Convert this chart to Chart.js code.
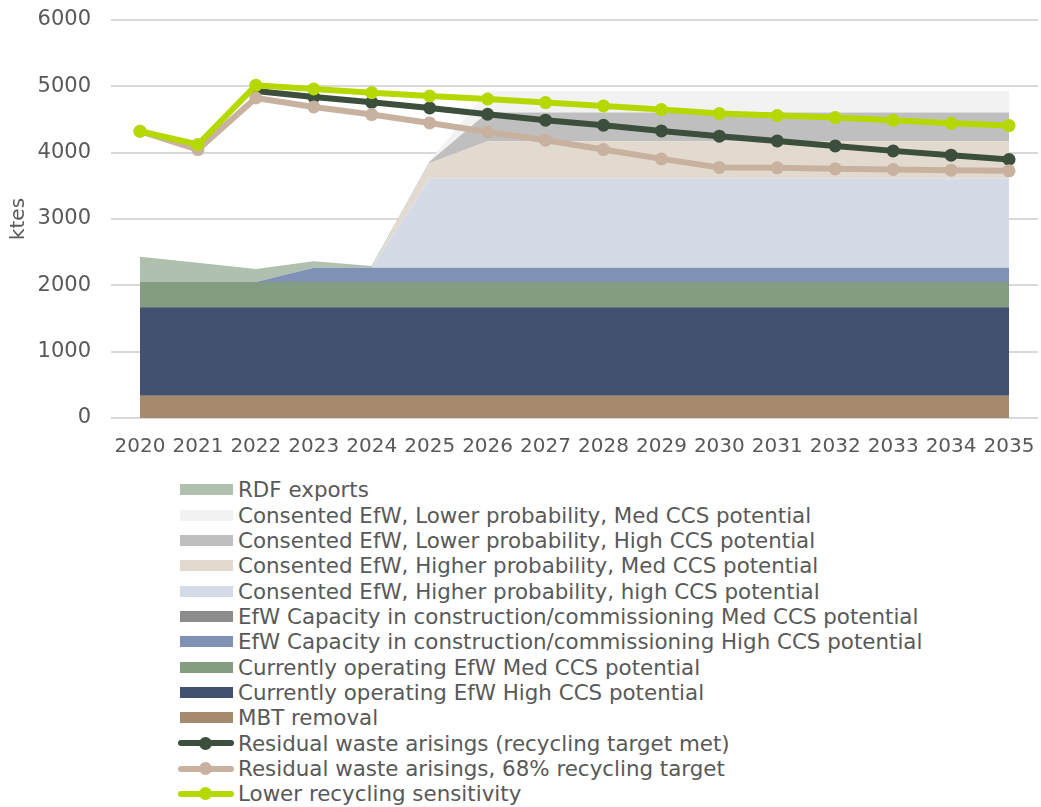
<!DOCTYPE html>
<html><head><meta charset="utf-8">
<script src="https://cdn.jsdelivr.net/npm/chart.js@4"></script>
<style>
html,body{margin:0;padding:0;background:#fff;}
body{width:1041px;height:807px;overflow:hidden;position:relative;font-family:"DejaVu Sans",Verdana,sans-serif;}
#wrap{position:absolute;left:0;top:0;width:1041px;height:470px;}
.row{position:absolute;left:0;height:25.33px;line-height:25.33px;font-size:21.4px;color:#595959;white-space:nowrap;}
.row .txt{position:absolute;left:238px;top:0;}
.sw{position:absolute;left:180px;width:53px;height:11px;top:7px;}
.ln{position:absolute;left:178px;width:56px;height:6px;top:9.7px;border-radius:3px;}
.dot{position:absolute;left:199px;width:13px;height:13px;top:6.2px;border-radius:50%;}
</style>
</head><body>
<div id="wrap"><canvas id="c" width="1041" height="470"></canvas></div>
<div id="legend"></div>
<script>
// ---- data ----
const years = ['2020','2021','2022','2023','2024','2025','2026','2027','2028','2029','2030','2031','2032','2033','2034','2035'];
const yTicks = [0,1000,2000,3000,4000,5000,6000];

const mbtRemoval          = [335,335,335,335,335,335,335,335,335,335,335,335,335,335,335,335];
const currentHighCCS      = [1335,1335,1335,1335,1335,1335,1335,1335,1335,1335,1335,1335,1335,1335,1335,1335];
const currentMedCCS       = [380,380,380,380,380,380,380,380,380,380,380,380,380,380,380,380];
const constructionHighCCS = [0,0,0,215,215,215,215,215,215,215,215,215,215,215,215,215];
const constructionMedCCS  = [0,0,0,0,0,0,0,0,0,0,0,0,0,0,0,0];
const higherProbHighCCS   = [0,0,0,0,0,1345,1345,1345,1345,1345,1345,1345,1345,1345,1345,1345];
const higherProbMedCCS    = [0,0,0,0,0,230,562,562,562,562,562,562,562,562,562,562];
const lowerProbHighCCS    = [0,0,0,0,0,25,432,432,432,432,432,432,432,432,432,432];
const lowerProbMedCCS     = [0,0,0,0,0,15,326,326,326,326,326,326,326,326,326,326];
const rdfExports          = [380,292,196,97,27,0,0,0,0,0,0,0,0,0,0,0];

const residualTargetMet   = [null,null,4930,4839,4759,4674,4579,4490,4413,4328,4248,4177,4102,4027,3962,3897];
const residual68          = [4323,4047,4824,4689,4574,4448,4312,4187,4047,3906,3777,3771,3756,3746,3736,3726];
const lowerRecycling      = [4323,4123,5015,4960,4905,4854,4809,4755,4704,4649,4589,4559,4529,4488,4443,4409];

// ---- styles ----
const FONT = '"DejaVu Sans", Verdana, sans-serif';
const TXT = '#595959';

function area(label, data, color, first){
  return {type:'line', label, data, backgroundColor:color, borderColor:'rgba(0,0,0,0)', borderWidth:0,
    pointRadius:0, pointHoverRadius:0, fill: first ? 'origin' : '-1', stack:'areas', order:10, tension:0, _kind:'area'};
}
function line(label, data, color, order){
  return {type:'line', label, data, borderColor:color, backgroundColor:color, borderWidth:6,
    pointRadius:6.5, pointHoverRadius:6.5, pointBorderWidth:0, pointBackgroundColor:color,
    fill:false, stack:'line'+order, order, tension:0, clip:10, _kind:'line'};
}

const datasets = [
  area('MBT removal', mbtRemoval, '#a68a6d', true),
  area('Currently operating EfW High CCS potential', currentHighCCS, '#41516f'),
  area('Currently operating EfW Med CCS potential', currentMedCCS, '#849c82'),
  area('EfW Capacity in construction/commissioning High CCS potential', constructionHighCCS, '#7f91b4'),
  area('EfW Capacity in construction/commissioning Med CCS potential', constructionMedCCS, '#8c8c8c'),
  area('Consented EfW, Higher probability, high CCS potential', higherProbHighCCS, '#d5dbe6'),
  area('Consented EfW, Higher probability, Med CCS potential', higherProbMedCCS, '#e3dacf'),
  area('Consented EfW, Lower probability, High CCS potential', lowerProbHighCCS, '#bfbfbf'),
  area('Consented EfW, Lower probability, Med CCS potential', lowerProbMedCCS, '#f2f2f2'),
  area('RDF exports', rdfExports, '#afc0ae'),
  line('Residual waste arisings (recycling target met)', residualTargetMet, '#3c4e3c', 2),
  line('Residual waste arisings, 68% recycling target', residual68, '#c8b29f', 1),
  line('Lower recycling sensitivity', lowerRecycling, '#b5d800', 0)
];

const chart = new Chart(document.getElementById('c'), {
  type:'line',
  data:{labels:years, datasets},
  options:{
    responsive:false, animation:false, devicePixelRatio:1,
    layout:{autoPadding:false, padding:{top:20,right:3,left:0,bottom:0}},
    plugins:{legend:{display:false}, tooltip:{enabled:false}},
    scales:{
      x:{offset:true, grid:{display:false, drawTicks:false}, border:{display:false},
         ticks:{color:TXT, font:{family:FONT,size:20}, padding:17, maxRotation:0, autoSkip:false},
         afterFit(s){ s.height = 52; s.paddingLeft = 0; s.paddingRight = 0; }},
      y:{stacked:true, min:0, max:6000,
         afterBuildTicks(s){ s.ticks = yTicks.map(v=>({value:v})); },
         grid:{color:'#d9d9d9', lineWidth:2, drawTicks:false}, border:{display:false},
         ticks:{color:TXT, font:{family:FONT,size:21}, padding:20, callback:(v)=>String(v)},
         title:{display:true, text:'ktes', color:TXT, font:{family:FONT,size:20}, padding:{top:7,bottom:0}},
         afterFit(s){ s.width = 111; s.paddingTop = 0; s.paddingBottom = 0; }}
    }
  }
});

// ---- legend (built from chart datasets) ----
const legendOrder = [9,8,7,6,5,4,3,2,1,0,10,11,12];
const lg = document.getElementById('legend');
legendOrder.forEach((di,i)=>{
  const ds = chart.data.datasets[di];
  const row = document.createElement('div');
  row.className = 'row';
  row.style.top = (477.33 + 25.33*i) + 'px';
  row.style.width = '1041px';
  if (ds._kind === 'area') {
    const s = document.createElement('span'); s.className='sw'; s.style.background = ds.backgroundColor; row.appendChild(s);
  } else {
    const l = document.createElement('span'); l.className='ln'; l.style.background = ds.borderColor; row.appendChild(l);
    const d = document.createElement('span'); d.className='dot'; d.style.background = ds.borderColor; row.appendChild(d);
  }
  const t = document.createElement('span'); t.className='txt'; t.textContent = ds.label; row.appendChild(t);
  lg.appendChild(row);
});
</script>
</body></html>
